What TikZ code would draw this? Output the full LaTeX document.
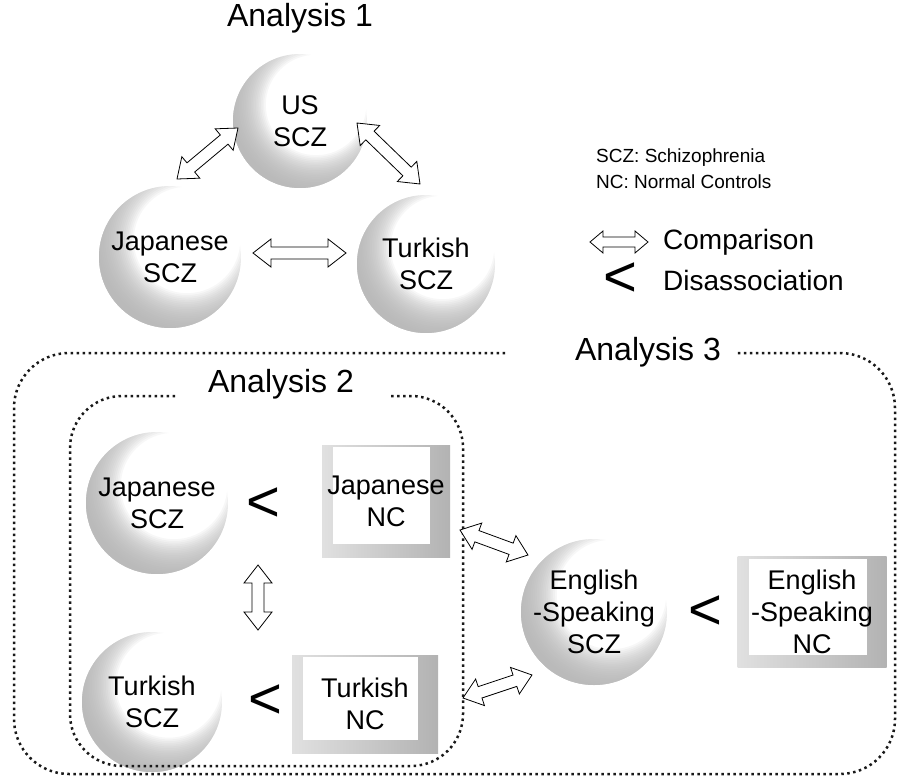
\documentclass[tikz,border=0pt]{standalone}
\usepackage{fontspec}
\setmainfont{Liberation Sans}
\usetikzlibrary{calc}

\definecolor{sphgray}{gray}{0.70}

\newcommand\lblfont{\fontsize{27}{32}\selectfont}
\newcommand\titlefont{\fontsize{32}{36}\selectfont}
\newcommand\legfont{\fontsize{19}{24}\selectfont}
\newcommand\keyfont{\fontsize{28}{32}\selectfont}
\newcommand\ltfont{\fontsize{58}{58}\selectfont}

% hollow double-headed arrow: from, to, head length, head half-width, shaft half-width
\newcommand\dblarrow[5]{%
  \draw[cmp] let \p1=(#1), \p2=(#2),
      \n1={atan2(\y2-\y1,\x2-\x1)}, \n2={veclen(\x2-\x1,\y2-\y1)} in
    [shift={(\p1)}, rotate=\n1]
    (0,0) -- (#3,#4) -- (#3,#5) -- ({\n2-#3},#5) -- ({\n2-#3},#4) -- (\n2,0)
    -- ({\n2-#3},-#4) -- ({\n2-#3},-#5) -- (#3,-#5) -- (#3,-#4) -- cycle;}

% ball lit from the upper right: many faint grey layers, each one covering the
% ball outside a disc shifted to the upper right, build up a soft crescent
% (name, centre, diameter, text)
\newcommand\ball[4]{%
  \begin{scope}[shift={(#2)}]
    \clip (0,0) circle[radius=#3*0.5pt];
    \foreach \f in {0.750,0.775,0.800,0.825,0.850,0.875,0.900,0.925,0.950,0.975,
                    1.000,1.025,1.050,1.075,1.100,1.125,1.150,1.175,1.200,1.225,1.250}
      \fill[sphgray, opacity=0.1, even odd rule]
        (-#3*1pt,-#3*1pt) rectangle (#3*1pt,#3*1pt)
        (#3*0.12pt, #3*0.12pt) circle[radius=#3*0.5pt*\f];
  \end{scope}
  \node[sphere=#3] (#1) at (#2) {#4};}

\tikzset{
  sphere/.style={circle, minimum size=#1, inner sep=0pt, align=center, font=\lblfont},
  ncbox/.style n args={2}{rectangle, minimum width=#1, minimum height=#2, inner sep=0pt,
    left color=black!12, right color=black!30, align=center, font=\lblfont,
    path picture={\fill[white]
      ([xshift=11pt,yshift=13pt]path picture bounding box.south west) rectangle
      ([xshift=-20pt,yshift=-2pt]path picture bounding box.north east);}},
  cmp/.style={draw=black, fill=white, line width=0.8pt, line join=miter},
  dotline/.style={line width=2.5pt, dash pattern=on 2.5pt off 3.5pt, black!90},
  disso/.style={font=\ltfont, inner sep=0pt},
  title/.style={font=\titlefont, inner sep=0pt},
  legend/.style={font=\legfont, inner sep=0pt, anchor=west},
}

\begin{document}
\begin{tikzpicture}[x=1pt, y=-1pt]
\useasboundingbox (0,0) rectangle (899,778);

% ---------- balls ----------
\ball{us}{300,121}{134}{US\\SCZ}
\ball{jp1}{170,257}{142}{Japanese\\SCZ}
\ball{tk1}{426,264}{138}{Turkish\\SCZ}
\ball{jp2}{157,503}{142}{Japanese\\SCZ}
\ball{tk2}{152,702}{140}{Turkish\\SCZ}
\ball{en}{594,612}{146}{English\\-Speaking\\SCZ}

% ---------- Analysis 1 ----------
\node[title] (t1) at (300,18) {Analysis 1};
\coordinate (a1) at (177,179);  \coordinate (a2) at (238,128);
\coordinate (b1) at (357,123);  \coordinate (b2) at (420,184);
\coordinate (c1) at (253,253);  \coordinate (c2) at (346,253);
\dblarrow{a1}{a2}{18}{14}{6}
\dblarrow{b1}{b2}{18}{14}{6}
\dblarrow{c1}{c2}{18}{14}{6}

% ---------- legend ----------
\node[legend] (lg1) at (596,158) {SCZ: Schizophrenia};
\node[legend] (lg2) at (596,182) {NC: Normal Controls};
\coordinate (la) at (590,242);  \coordinate (lb) at (648,242);
\dblarrow{la}{lb}{13}{11}{5}
\node[legend, font=\keyfont] (lg3) at (663,242) {Comparison};
\node[disso] (lglt) at (620,280) {<};
\node[legend, font=\keyfont] (lg4) at (663,280) {Disassociation};

% ---------- Analysis 3 frame ----------
\draw[dotline, rounded corners=55pt] (505,353) -| (14,774) -| (895,353) -- (735,353);
\node[title] (t3) at (648,352) {Analysis 3};

% ---------- Analysis 2 frame ----------
\draw[dotline, rounded corners=52pt] (175,396) -| (70,766) -| (463,396) -- (388,396);
\node[title] (t2) at (281,384) {Analysis 2};

% ---------- Analysis 2 ----------
\node[disso] (lt1) at (263,505) {<};
\node[ncbox={128}{112}] (jpnc) at (386,501) {Japanese\\NC};
\node[disso] (lt2) at (265,702) {<};
\node[ncbox={146}{98}] (tknc) at (365,704) {Turkish\\NC};
\coordinate (v1) at (258,565);  \coordinate (v2) at (258,630);
\dblarrow{v1}{v2}{18}{14}{6}

% ---------- Analysis 3 ----------
\node[disso] (lt3) at (705,613) {<};
\node[ncbox={149}{111}] (ennc) at (812,612) {English\\-Speaking\\NC};
\coordinate (u1) at (460,530);  \coordinate (u2) at (528,555);
\coordinate (w1) at (463,698);  \coordinate (w2) at (532,675);
\dblarrow{u1}{u2}{18}{14}{6}
\dblarrow{w1}{w2}{18}{14}{6}
\end{tikzpicture}
\end{document}
